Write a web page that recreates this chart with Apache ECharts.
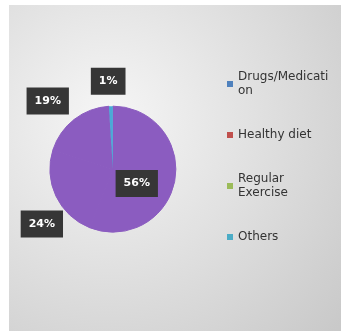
<!DOCTYPE html>
<html>
<head>
<meta charset="utf-8">
<script src="https://cdn.jsdelivr.net/npm/echarts@6/dist/echarts.min.js"></script>
<style>
html,body{margin:0;padding:0;background:#fff;}
#chart{width:341px;height:331px;}
</style>
</head>
<body>
<div id="chart"></div>
<script>
var categories = ['Drugs/Medication', 'Healthy diet', 'Regular Exercise', 'Others'];
var legendLabels = ['Drugs/Medicati\non', 'Healthy diet', 'Regular\nExercise', 'Others'];
var values = [56, 24, 19, 1];
var percentLabels = ['56%', '24%', '19%', '1%'];

var sliceColors = ['#8b5cc0', '#8b5cc0', '#8b5cc0', '#4aaad6'];
var legendColors = ['#4f81bd', '#c0504d', '#9bbb59', '#4bacc6'];
var labelShift = [[-10, 8], [23, 23], [7, -9], [20, -13]];

var chart = echarts.init(document.getElementById('chart'));
var font = 'DejaVu Sans';

var data = categories.map(function (c, i) {
  return {
    name: c,
    value: values[i],
    itemStyle: { color: sliceColors[i], borderColor: sliceColors[i], borderWidth: i === 3 ? 0 : 1 },
    label: { position: i === 0 ? 'inside' : 'outside' }
  };
});

var legendData = categories.map(function (c, i) {
  var twoLine = legendLabels[i].indexOf('\n') >= 0;
  return {
    name: c,
    itemStyle: { color: legendColors[i], borderColor: legendColors[i], borderWidth: 0 },
    textStyle: { padding: twoLine ? [14, 0, 0, 0] : 0 }
  };
});

chart.setOption({
  animation: false,
  graphic: [{
    type: 'rect',
    z: -10,
    silent: true,
    shape: { x: 9, y: 5, width: 332, height: 326 },
    style: {
      fill: new echarts.graphic.RadialGradient(0.3, 0.35, 0.95, [
        { offset: 0, color: '#f6f6f6' },
        { offset: 1, color: '#c9c9c9' }
      ])
    }
  }],
  legend: {
    orient: 'vertical',
    left: 227,
    top: 63,
    padding: 0,
    itemWidth: 6,
    itemHeight: 6,
    itemGap: 23,
    icon: 'rect',
    data: legendData,
    formatter: function (name) {
      return legendLabels[categories.indexOf(name)];
    },
    textStyle: {
      fontFamily: font,
      fontSize: 12,
      lineHeight: 14,
      color: '#333333'
    }
  },
  series: [{
    type: 'pie',
    center: ['33.1%', '51.1%'],
    radius: 63,
    startAngle: 90,
    clockwise: true,
    avoidLabelOverlap: false,
    data: data,
    label: {
      show: true,
      alignTo: 'none',
      overflow: 'none',
      formatter: function (p) { return percentLabels[p.dataIndex]; },
      color: '#ffffff',
      fontFamily: font,
      fontWeight: 'bold',
      fontSize: 11,
      lineHeight: 13,
      backgroundColor: '#363636',
      padding: [7, 8, 7, 8]
    },
    labelLine: { show: false, length: 12, length2: 0 },
    labelLayout: function (p) {
      var s = labelShift[p.dataIndex];
      return { dx: s[0], dy: s[1] };
    },
    emphasis: { disabled: true }
  }]
});
</script>
</body>
</html>
